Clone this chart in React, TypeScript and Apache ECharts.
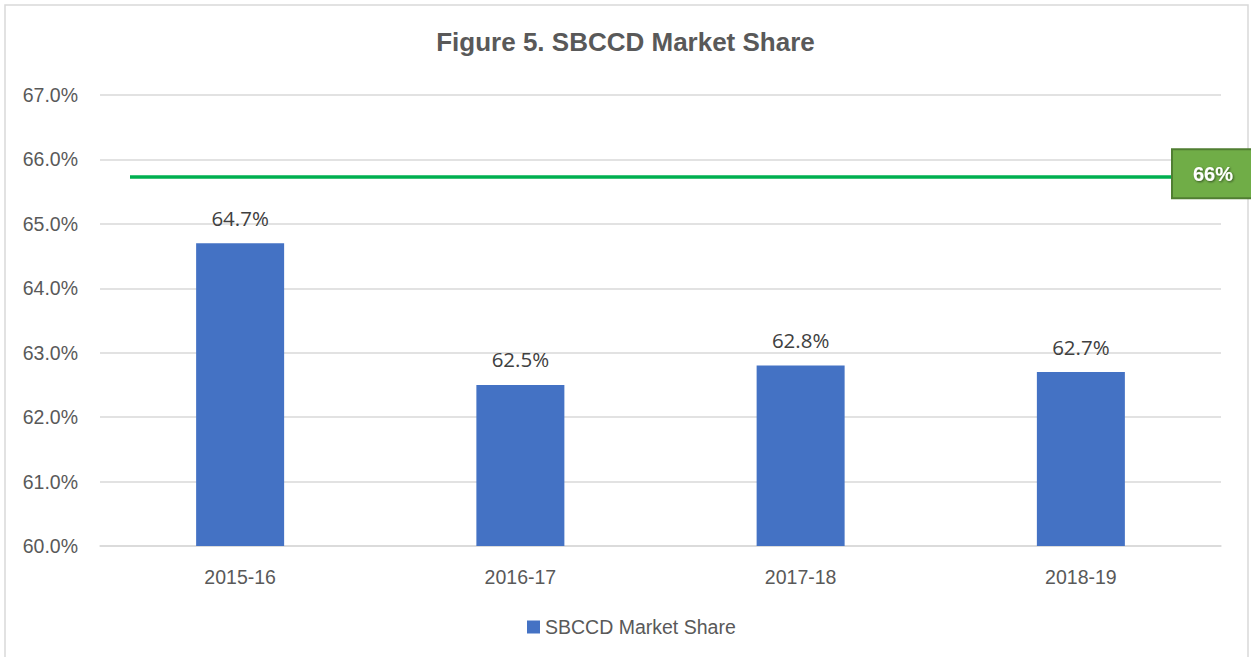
import React, { useEffect, useRef } from "react";
import * as echarts from "echarts";

const categories = ["2015-16", "2016-17", "2017-18", "2018-19"];
const marketShare = [64.7, 62.5, 62.8, 62.7];
const targetValue = 65.73;
const targetLabel = "66%";
const seriesName = "SBCCD Market Share";
const titleText = "Figure 5. SBCCD Market Share";

const SANS = "'Liberation Sans', Arial, sans-serif";

export default function App() {
  const ref = useRef<HTMLDivElement>(null);
  useEffect(() => {
    if (!ref.current) return;
    const chart = echarts.init(ref.current, undefined, { renderer: "svg" });
    chart.setOption({
      animation: false,
      backgroundColor: "#ffffff",
      title: {
        text: titleText,
        left: "center",
        top: 29,
        padding: 0,
        textStyle: { fontFamily: SANS, fontSize: 26, fontWeight: "bold", color: "#595959" },
      },
      legend: {
        data: [seriesName],
        left: 527,
        top: 617,
        padding: 0,
        icon: "rect",
        itemWidth: 13,
        itemHeight: 13,
        itemGap: 10,
        textStyle: { fontFamily: SANS, fontSize: 19.5, color: "#595959" },
      },
      grid: { left: 100, right: 30, top: 95, bottom: 111, containLabel: false },
      xAxis: {
        type: "category",
        data: categories,
        axisLine: { show: true, lineStyle: { color: "#d9d9d9", width: 1.5 } },
        axisTick: { show: false },
        axisLabel: { margin: 21, fontFamily: SANS, fontSize: 19.5, color: "#595959" },
      },
      yAxis: {
        type: "value",
        min: 60,
        max: 67,
        interval: 1,
        axisLine: { show: false },
        axisTick: { show: false },
        splitLine: { lineStyle: { color: "#d9d9d9", width: 1.5 } },
        axisLabel: {
          margin: 22,
          fontFamily: SANS,
          fontSize: 19.5,
          color: "#595959",
          formatter: (v: number) => v.toFixed(1) + "%",
        },
      },
      series: [
        {
          name: seriesName,
          type: "bar",
          data: marketShare,
          barWidth: 88,
          itemStyle: { color: "#4472c4" },
          label: {
            show: true,
            position: "top",
            distance: 15,
            fontFamily: "'Open Sans', 'Noto Sans', sans-serif",
            fontSize: 20.5,
            color: "#404040",
            formatter: (p: any) => p.value.toFixed(1) + "%",
          },
          markLine: {
            silent: true,
            symbol: ["none", "none"],
            lineStyle: { color: "#00b050", width: 3.5, type: "solid" },
            label: {
              show: true,
              position: "end",
              distance: 0,
              formatter: targetLabel,
              fontFamily: SANS,
              fontSize: 20,
              lineHeight: 25,
              fontWeight: "bold",
              color: "#ffffff",
              textShadowColor: "rgba(0,0,0,0.55)",
              textShadowBlur: 2,
              textShadowOffsetX: 1,
              textShadowOffsetY: 1,
              backgroundColor: "#70ad47",
              borderColor: "#507e32",
              borderWidth: 2,
              padding: [11, 40, 11, 20],
              offset: [0, -3],
            },
            emphasis: { disabled: true },
            data: [
              [
                { yAxis: targetValue, x: 130 },
                { yAxis: targetValue, x: 1173 },
              ],
            ],
          },
        },
      ],
      graphic: [
        {
          type: "rect",
          silent: true,
          z: -10,
          shape: { x: 5, y: 5, width: 1243, height: 720 },
          style: { fill: "none", stroke: "#d9d9d9", lineWidth: 1.5 },
        },
      ],
    });
    return () => chart.dispose();
  }, []);
  return (
    <div
      ref={ref}
      style={{ position: "absolute", left: 0, top: 0, width: 1251, height: 657 }}
    />
  );
}
